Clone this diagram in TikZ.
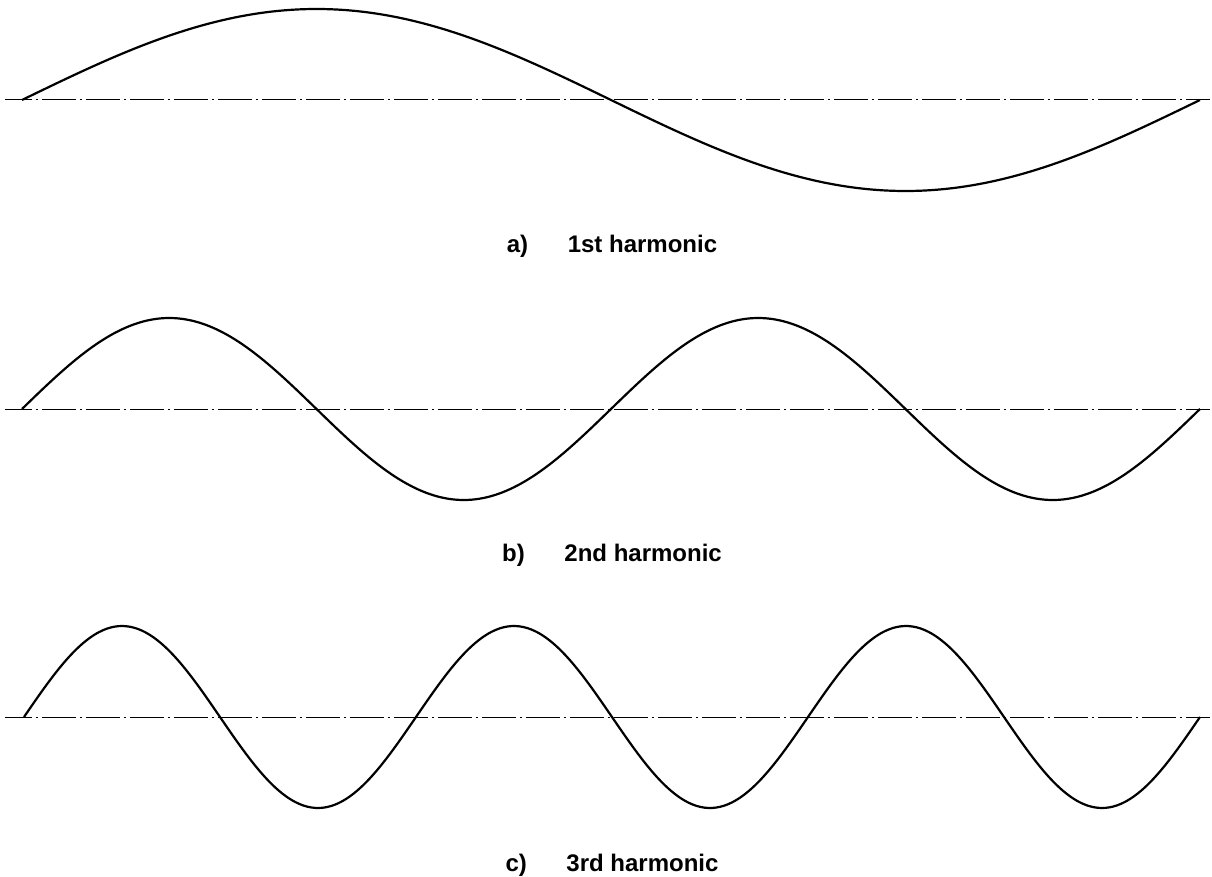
\documentclass[tikz,border=0pt]{standalone}
\usepackage{fontspec}
\setmainfont{Liberation Sans}
\usepackage{tikz}
\usetikzlibrary{positioning}

\begin{document}
\begin{tikzpicture}[
  x=1pt, y=-1pt,
  axis/.style={line width=1pt,
               dash pattern=on 34pt off 4pt on 2pt off 4pt,dash phase=7pt},
  wave/.style={line width=2.2pt,line join=round},
  caption/.style={font=\fontsize{24}{28}\selectfont\bfseries,inner sep=0pt}
]
  \useasboundingbox (0,0) rectangle (1212,877);

  % 1st harmonic
  \coordinate (aL) at (5,100);   \coordinate (aR) at (1210,100);
  \draw[axis] (aL) -- (aR);
  \draw[wave] plot[domain=0:360,samples=120,smooth]
        ({22+\x/360*1178},{100-91*sin(\x)});
  \node[caption] (capa) at (612,246) {a)\hspace{1.65em}1st harmonic};

  % 2nd harmonic
  \coordinate (bL) at (5,409);   \coordinate (bR) at (1210,409);
  \draw[axis] (bL) -- (bR);
  \draw[wave] plot[domain=0:720,samples=200,smooth]
        ({22+\x/720*1178},{409-91*sin(\x)});
  \node[caption] (capb) at (612,555) {b)\hspace{1.65em}2nd harmonic};

  % 3rd harmonic
  \coordinate (cL) at (5,717);   \coordinate (cR) at (1210,717);
  \draw[axis] (cL) -- (cR);
  \draw[wave] plot[domain=0:1080,samples=300,smooth]
        ({24+\x/1080*1176},{717-91*sin(\x)});
  \node[caption] (capc) at (612,865) {c)\hspace{1.65em}3rd harmonic};
\end{tikzpicture}
\end{document}
